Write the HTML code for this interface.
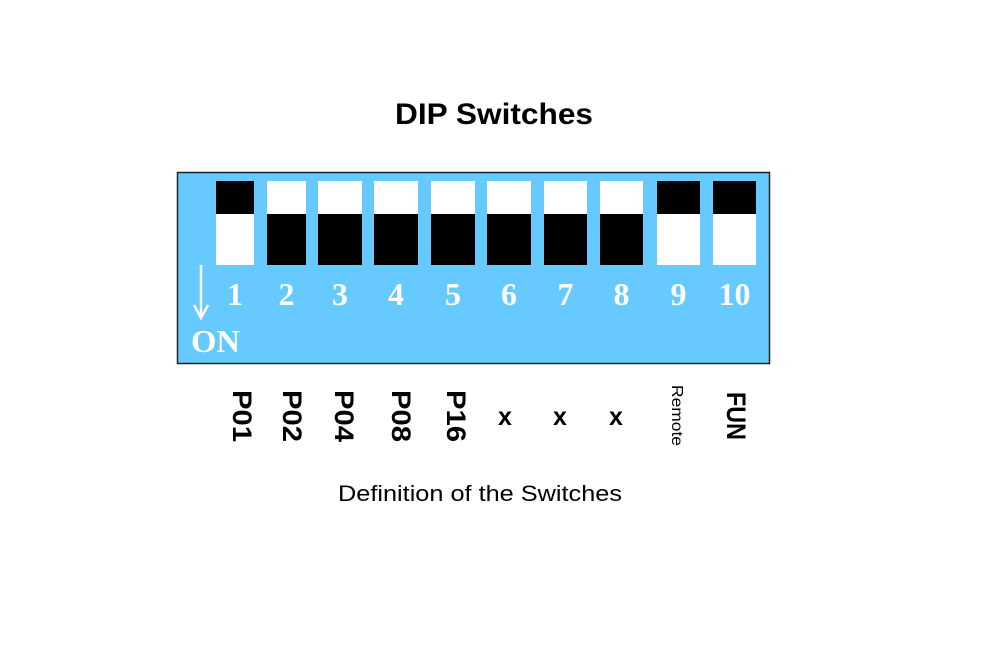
<!DOCTYPE html>
<html><head><meta charset="utf-8"><style>html,body{margin:0;padding:0;background:#fff}svg{display:block}</style></head>
<body>
<svg width="990" height="660" viewBox="0 0 990 660" xmlns="http://www.w3.org/2000/svg">
<rect width="990" height="660" fill="#fff"/>
<text x="494" y="124" text-anchor="middle" font-family="Liberation Sans, sans-serif" font-weight="bold" font-size="30" textLength="198" lengthAdjust="spacingAndGlyphs">DIP Switches</text>
<rect x="177.5" y="172.5" width="592" height="191" fill="#66c9ff" stroke="#222" stroke-width="1.5"/>
<g>
<rect x="216" y="181" width="38" height="33" fill="#000"/><rect x="216" y="214" width="38" height="51" fill="#fff"/>
<rect x="267" y="181" width="39" height="33" fill="#fff"/><rect x="267" y="214" width="39" height="51" fill="#000"/>
<rect x="318" y="181" width="44" height="33" fill="#fff"/><rect x="318" y="214" width="44" height="51" fill="#000"/>
<rect x="374" y="181" width="44" height="33" fill="#fff"/><rect x="374" y="214" width="44" height="51" fill="#000"/>
<rect x="431" y="181" width="44" height="33" fill="#fff"/><rect x="431" y="214" width="44" height="51" fill="#000"/>
<rect x="487" y="181" width="44" height="33" fill="#fff"/><rect x="487" y="214" width="44" height="51" fill="#000"/>
<rect x="544" y="181" width="43" height="33" fill="#fff"/><rect x="544" y="214" width="43" height="51" fill="#000"/>
<rect x="600" y="181" width="43" height="33" fill="#fff"/><rect x="600" y="214" width="43" height="51" fill="#000"/>
<rect x="657" y="181" width="43" height="33" fill="#000"/><rect x="657" y="214" width="43" height="51" fill="#fff"/>
<rect x="713" y="181" width="43" height="33" fill="#000"/><rect x="713" y="214" width="43" height="51" fill="#fff"/>
</g>
<g font-family="Liberation Serif, serif" font-weight="bold" font-size="32" fill="#fff" text-anchor="middle">
<text x="235" y="305">1</text><text x="286.5" y="305">2</text><text x="340" y="305">3</text><text x="396" y="305">4</text><text x="453" y="305">5</text><text x="509" y="305">6</text><text x="565.5" y="305">7</text><text x="621.5" y="305">8</text><text x="678.5" y="305">9</text><text x="734.5" y="305">10</text>
<text x="191" y="352" font-size="32" text-anchor="start" textLength="49" lengthAdjust="spacingAndGlyphs">ON</text>
</g>
<line x1="201" y1="265" x2="201" y2="316" stroke="#fff" stroke-width="2.5"/>
<polyline points="194,305 201,318 208,305" fill="none" stroke="#fff" stroke-width="2.5"/>
<g font-family="Liberation Sans, sans-serif" font-weight="bold" font-size="27" fill="#000">
<text transform="translate(233,390) rotate(90)" textLength="52" lengthAdjust="spacingAndGlyphs">P01</text>
<text transform="translate(283,390) rotate(90)" textLength="52" lengthAdjust="spacingAndGlyphs">P02</text>
<text transform="translate(335,390) rotate(90)" textLength="52" lengthAdjust="spacingAndGlyphs">P04</text>
<text transform="translate(392,390) rotate(90)" textLength="52" lengthAdjust="spacingAndGlyphs">P08</text>
<text transform="translate(447,390) rotate(90)" textLength="52" lengthAdjust="spacingAndGlyphs">P16</text>
<text transform="translate(727,392) rotate(90)" textLength="48" lengthAdjust="spacingAndGlyphs">FUN</text>
<text transform="translate(672,385) rotate(90)" font-size="16" font-weight="normal" textLength="61" lengthAdjust="spacingAndGlyphs">Remote</text>
</g>
<g font-family="Liberation Sans, sans-serif" font-weight="bold" font-size="25" text-anchor="middle">
<text x="505" y="425">x</text><text x="560" y="425">x</text><text x="616" y="425">x</text>
</g>
<text x="480" y="501" text-anchor="middle" font-family="Liberation Sans, sans-serif" font-size="22" textLength="284" lengthAdjust="spacingAndGlyphs">Definition of the Switches</text>
</svg>
</body></html>
